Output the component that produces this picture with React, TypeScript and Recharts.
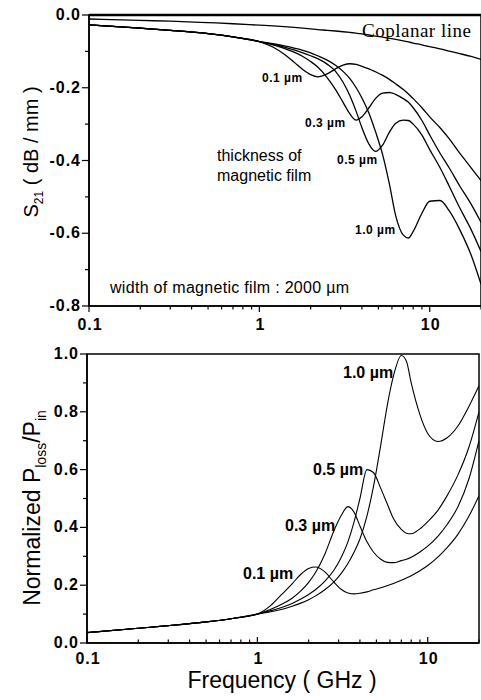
import React from "react";
import { LineChart, Line, XAxis, YAxis, ReferenceArea, ReferenceLine } from "recharts";

// frequency grid (GHz) shared by every curve
const freqs = [
  0.1, 0.2, 0.3, 0.5, 0.7,
  1.0, 1.2, 1.4, 1.6, 1.8,
  2.0, 2.2, 2.5, 2.8, 3.1,
  3.4, 3.7, 4.0, 4.4, 4.8,
  5.3, 5.8, 6.3, 7.0, 7.5,
  8.0, 9.0, 10, 11.5, 13,
  15, 17.5, 20,
];

// S21 (dB/mm)
const s21Coplanar = [
  -0.011, -0.015, -0.017, -0.021, -0.024,
  -0.028, -0.03, -0.032, -0.034, -0.036,
  -0.038, -0.04, -0.042, -0.044, -0.046,
  -0.048, -0.05, -0.052, -0.055, -0.058,
  -0.061, -0.064, -0.067, -0.071, -0.074,
  -0.077, -0.082, -0.087, -0.093, -0.099,
  -0.106, -0.114, -0.122,
];
const s21Film01 = [
  -0.027, -0.036, -0.042, -0.051, -0.06,
  -0.073, -0.088, -0.108, -0.13, -0.15,
  -0.164, -0.17, -0.162, -0.148, -0.138,
  -0.134, -0.136, -0.141, -0.148, -0.156,
  -0.166, -0.177, -0.189, -0.205, -0.217,
  -0.23, -0.255, -0.28, -0.31, -0.34,
  -0.38, -0.42, -0.455,
];
const s21Film03 = [
  -0.027, -0.036, -0.042, -0.051, -0.06,
  -0.073, -0.082, -0.092, -0.102, -0.114,
  -0.128, -0.143, -0.172, -0.205, -0.24,
  -0.272, -0.289, -0.28, -0.255, -0.23,
  -0.215, -0.213, -0.218, -0.23, -0.24,
  -0.255, -0.29, -0.33, -0.38, -0.42,
  -0.47, -0.52, -0.57,
];
const s21Film05 = [
  -0.027, -0.036, -0.042, -0.051, -0.06,
  -0.073, -0.08, -0.088, -0.096, -0.104,
  -0.112, -0.12, -0.135, -0.155, -0.185,
  -0.222, -0.265, -0.31, -0.355, -0.375,
  -0.357, -0.322, -0.298, -0.289, -0.29,
  -0.3, -0.33, -0.37, -0.42, -0.47,
  -0.53, -0.59, -0.65,
];
const s21Film10 = [
  -0.027, -0.036, -0.042, -0.051, -0.06,
  -0.073, -0.079, -0.085, -0.091, -0.097,
  -0.104, -0.112, -0.124, -0.138, -0.155,
  -0.175, -0.2, -0.228, -0.27, -0.32,
  -0.385, -0.465, -0.55, -0.605, -0.613,
  -0.595, -0.545, -0.512, -0.51, -0.538,
  -0.59, -0.66, -0.74,
];

// normalized Ploss/Pin
const lossFilm01 = [
  0.036, 0.051, 0.06, 0.073, 0.084,
  0.1, 0.13, 0.17, 0.205, 0.238,
  0.258, 0.263, 0.245, 0.212, 0.186,
  0.173, 0.17, 0.172, 0.177, 0.184,
  0.191, 0.199, 0.206, 0.217, 0.225,
  0.233, 0.25, 0.268, 0.298, 0.33,
  0.375, 0.44, 0.51,
];
const lossFilm03 = [
  0.036, 0.051, 0.06, 0.073, 0.084,
  0.1, 0.117, 0.135, 0.155, 0.18,
  0.21, 0.245, 0.31, 0.385, 0.44,
  0.472, 0.452, 0.405, 0.35, 0.315,
  0.29, 0.279, 0.278, 0.285, 0.29,
  0.297, 0.315, 0.335, 0.37, 0.41,
  0.47, 0.57, 0.7,
];
const lossFilm05 = [
  0.036, 0.051, 0.06, 0.073, 0.084,
  0.1, 0.112, 0.124, 0.137, 0.152,
  0.168, 0.185, 0.215, 0.25, 0.295,
  0.35, 0.42, 0.5, 0.6, 0.59,
  0.535, 0.48, 0.43, 0.393, 0.38,
  0.378, 0.395, 0.42, 0.46, 0.51,
  0.58, 0.68, 0.8,
];
const lossFilm10 = [
  0.036, 0.051, 0.06, 0.073, 0.084,
  0.1, 0.108, 0.117, 0.127, 0.138,
  0.15, 0.163, 0.185, 0.21, 0.24,
  0.275, 0.315, 0.36, 0.44, 0.54,
  0.685, 0.825, 0.925, 0.995, 0.975,
  0.9, 0.79, 0.725, 0.697, 0.71,
  0.75, 0.82, 0.89,
];

const xTicks = [
  0.1, 0.2, 0.3, 0.4, 0.5, 0.6, 0.7, 0.8, 0.9,
  1, 2, 3, 4, 5, 6, 7, 8, 9, 10, 20,
];
const xLabels = [0.1, 1, 10];
const s21Ticks = [-0.8, -0.7, -0.6, -0.5, -0.4, -0.3, -0.2, -0.1, 0];
const lossTicks = [0, 0.1, 0.2, 0.3, 0.4, 0.5, 0.6, 0.7, 0.8, 0.9, 1.0];

const s21Data = freqs.map((f, i) => ({
  f,
  cop: s21Coplanar[i],
  t01: s21Film01[i],
  t03: s21Film03[i],
  t05: s21Film05[i],
  t10: s21Film10[i],
}));
const lossData = freqs.map((f, i) => ({
  f,
  t01: lossFilm01[i],
  t03: lossFilm03[i],
  t05: lossFilm05[i],
  t10: lossFilm10[i],
}));

const sans = "'Liberation Sans', Arial, Helvetica, sans-serif";
const serif = "'Liberation Serif', 'Times New Roman', serif";

function makeXTick(inward: boolean, labelDy: number) {
  return (props: any) => {
    const { x, y, payload } = props;
    const v = payload.value;
    const major = xLabels.includes(v);
    const dir = inward ? -1 : 1;
    const len = major ? 6 : 3.5;
    return (
      <g>
        <line x1={x} x2={x} y1={y} y2={y + dir * len} stroke="#000" strokeWidth={1.2} />
        {major && (
          <text x={x + 1} y={y + labelDy} textAnchor="middle" fontFamily={sans}
            fontWeight="bold" fontSize={16} letterSpacing={1} fill="#000">
            {String(v)}
          </text>
        )}
      </g>
    );
  };
}

function YTick(props: any) {
  const { x, y, payload } = props;
  const v = payload.value;
  const major = Math.abs(Math.round(v * 10)) % 2 === 0;
  return (
    <g>
      <line x1={x} x2={x - (major ? 7 : 4)} y1={y} y2={y} stroke="#000" strokeWidth={1.2} />
      {major && (
        <text x={x - 8} y={y + 5} textAnchor="end" fontFamily={sans}
          fontWeight="bold" fontSize={16} letterSpacing={1} fill="#000">
          {v.toFixed(1)}
        </text>
      )}
    </g>
  );
}

const lineProps = {
  type: "monotone" as const,
  dot: false,
  stroke: "#000",
  strokeWidth: 1.3,
  isAnimationActive: false,
};

export default function App() {
  return (
    <div style={{ position: "absolute", left: 0, top: 0, width: 481, height: 700, background: "#fff" }}>
      <div style={{ position: "absolute", left: 0, top: 0 }}>
        <LineChart width={481} height={340} data={s21Data}
          margin={{ top: 15, right: 0, bottom: 0, left: 0 }}>
          <XAxis dataKey="f" type="number" scale="log" domain={[0.1, 20]} allowDataOverflow
            ticks={xTicks} interval={0} height={34} tickLine={false} tickSize={0} tickMargin={0}
            axisLine={{ stroke: "#000", strokeWidth: 1.5 }} tick={makeXTick(false, 24)} />
          <YAxis type="number" domain={[-0.8, 0]} ticks={s21Ticks} interval={0} width={89}
            tickLine={false} tickSize={0} tickMargin={0}
            axisLine={{ stroke: "#000", strokeWidth: 1.5 }} tick={YTick} />
          <ReferenceArea x1={0.1} x2={20} y1={-0.8} y2={0} fill="none" stroke="#000"
            strokeWidth={1.5} ifOverflow="visible" />
          <ReferenceLine y={0} stroke="#000" strokeWidth={2.5} ifOverflow="visible" />
          <Line dataKey="cop" {...lineProps} />
          <Line dataKey="t01" {...lineProps} />
          <Line dataKey="t03" {...lineProps} />
          <Line dataKey="t05" {...lineProps} />
          <Line dataKey="t10" {...lineProps} />
        </LineChart>
      </div>
      <div style={{ position: "absolute", left: 0, top: 340 }}>
        <LineChart width={481} height={360} data={lossData}
          margin={{ top: 14, right: 2, bottom: 0, left: 0 }}>
          <XAxis dataKey="f" type="number" scale="log" domain={[0.1, 20]} allowDataOverflow
            ticks={xTicks} interval={0} height={57} tickLine={false} tickSize={0} tickMargin={0}
            axisLine={{ stroke: "#000", strokeWidth: 1.5 }} tick={makeXTick(true, 21)} />
          <YAxis type="number" domain={[0, 1]} ticks={lossTicks} interval={0} width={87}
            tickLine={false} tickSize={0} tickMargin={0}
            axisLine={{ stroke: "#000", strokeWidth: 1.5 }} tick={YTick} />
          <ReferenceArea x1={0.1} x2={20} y1={0} y2={1} fill="none" stroke="#000"
            strokeWidth={1.5} ifOverflow="visible" />
          <Line dataKey="t01" {...lineProps} strokeWidth={1.1} />
          <Line dataKey="t03" {...lineProps} strokeWidth={1.1} />
          <Line dataKey="t05" {...lineProps} strokeWidth={1.1} />
          <Line dataKey="t10" {...lineProps} strokeWidth={1.1} />
        </LineChart>
      </div>
      <svg width={481} height={700} style={{ position: "absolute", left: 0, top: 0, pointerEvents: "none" }}>
        <g fontFamily={sans} fill="#000">
          <text transform="rotate(-90 38 152)" x={38} y={152} textAnchor="middle" fontSize={20}>
            S<tspan fontSize={12} dy={5}>21</tspan>
            <tspan dy={-5}> ( dB / mm )</tspan>
          </text>
          <text fontFamily={serif} x={362} y={37} fontSize={19} letterSpacing={0.5}>Coplanar line</text>
          <g fontSize={12} fontWeight="bold" letterSpacing={0.5}>
            <text x={262} y={82}>0.1 µm</text>
            <text x={305} y={127}>0.3 µm</text>
            <text x={337} y={164}>0.5 µm</text>
            <text x={355} y={234}>1.0 µm</text>
          </g>
          <text x={217} y={161} fontSize={16}>thickness of</text>
          <text x={217} y={181} fontSize={16}>magnetic film</text>
          <text x={110} y={293} fontSize={16} letterSpacing={0.3}>width of magnetic film : 2000 µm</text>

          <text transform="rotate(-90 40 508)" x={40} y={508} textAnchor="middle" fontSize={23}>
            Normalized P<tspan fontSize={14} dy={6}>loss</tspan>
            <tspan dy={-6}>/P</tspan>
            <tspan fontSize={14} dy={6}>in</tspan>
          </text>
          <g fontSize={16} fontWeight="bold">
            <text x={343} y={378}>1.0 µm</text>
            <text x={313} y={475}>0.5 µm</text>
            <text x={285} y={531}>0.3 µm</text>
            <text x={243} y={579}>0.1 µm</text>
          </g>
          <text x={282} y={688} textAnchor="middle" fontSize={23}>Frequency ( GHz )</text>
        </g>
      </svg>
    </div>
  );
}
